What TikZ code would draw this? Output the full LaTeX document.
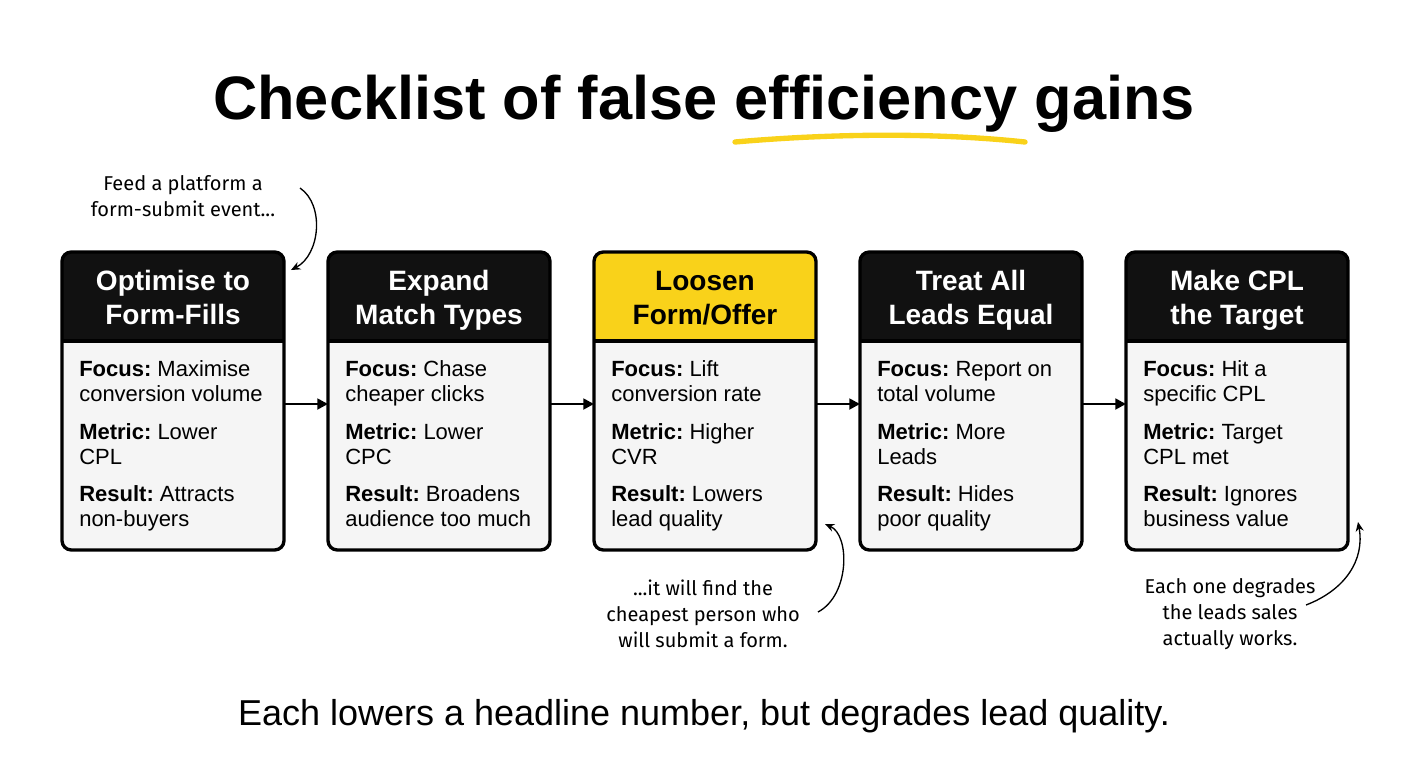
\documentclass[tikz,border=0pt]{standalone}
\usepackage{fontspec}
\setmainfont{Liberation Sans}
\newfontfamily\handfont{Fira Sans}
\usetikzlibrary{arrows.meta}
\definecolor{hdr}{HTML}{111111}
\definecolor{yel}{HTML}{F9D21A}
\definecolor{bodyg}{HTML}{F5F5F5}
\begin{document}
\begin{tikzpicture}[x=0.75pt,y=-0.75pt,
  body/.style={anchor=base west,font=\fontsize{16.5}{18}\selectfont,inner sep=0pt},
  htxt/.style={anchor=base,font=\fontsize{21}{25}\selectfont\bfseries,inner sep=0pt},
  note/.style={align=center,font=\handfont\fontsize{15}{19.5}\selectfont,inner sep=0pt},
  arr/.style={-{Triangle[length=8pt,width=8pt]},line width=2pt},
  carr/.style={-{Stealth[length=7pt,width=6pt]},line width=1pt}]
\useasboundingbox (0,0) rectangle (1408,768);
\fill[white] (0,0) rectangle (1408,768);
\draw[yel,line width=4pt,line cap=round] (735,142) .. controls (850,132) and (950,134) .. (1025,142);
\node[font=\fontsize{46}{50}\selectfont\bfseries] (title) at (704,104) {Checklist of false efficiency gains};
\foreach \i/\ha/\hb/\fa/\fb/\ma/\mb/\ra/\rb/\hc/\tc in {
 1/Optimise to/Form-Fills/Maximise/conversion volume/Lower/CPL/Attracts/non-buyers/hdr/white,
 2/Expand/Match Types/Chase/cheaper clicks/Lower/CPC/Broadens/audience too much/hdr/white,
 3/Loosen/Form\slash Offer/Lift/conversion rate/Higher/CVR/Lowers/lead quality/yel/black,
 4/Treat All/Leads Equal/Report on/total volume/More/Leads/Hides/poor quality/hdr/white,
 5/Make CPL/the Target/Hit a/specific CPL/Target/CPL met/Ignores/business value/hdr/white}{
 \pgfmathsetmacro{\xl}{62+266*(\i-1)}
 \begin{scope}[xshift=\xl*0.75pt]
 \fill[bodyg,rounded corners=7pt] (0,252) rectangle (222,550);
 \fill[\hc,rounded corners=7pt] (0,252) rectangle (222,300);
 \fill[\hc] (0,290) rectangle (222,341);
 \draw[line width=2.5pt] (0,341) -- (222,341);
 \draw[line width=2.5pt,rounded corners=7pt] (0,252) rectangle (222,550);
 \node[htxt,text=\tc] at (111,290) {\ha};
 \node[htxt,text=\tc] at (111,324) {\hb};
 \node[body] at (17,376) {\textbf{Focus:}\ \fa};
 \node[body] at (17,401) {\fb};
 \node[body] at (17,439) {\textbf{Metric:}\ \ma};
 \node[body] at (17,464) {\mb};
 \node[body] at (17,501) {\textbf{Result:}\ \ra};
 \node[body] at (17,526) {\rb};
 \end{scope}
 \coordinate (L\i) at (\xl,404);
 \pgfmathsetmacro{\xr}{\xl+222}
 \coordinate (R\i) at (\xr,404);
}
\draw[arr] (R1) -- (L2);
\draw[arr] (R2) -- (L3);
\draw[arr] (R3) -- (L4);
\draw[arr] (R4) -- (L5);
\node[note] (n1) at (183,196) {Feed a platform a\\form-submit event...};
\node[note] (n2) at (703,614) {...it will find the\\cheapest person who\\will submit a form.};
\node[note] (n3) at (1230,614) {Each one degrades\\the leads sales\\actually works.};
\coordinate (a1) at (291,270);
\coordinate (a2) at (825,524);
\coordinate (a3) at (1358,522);
\draw[carr] (300,188) .. controls (325,205) and (320,255) .. (a1);
\draw[carr] (818,612) .. controls (850,595) and (850,535) .. (a2);
\draw[carr] (1306,605) .. controls (1345,590) and (1365,560) .. (a3);
\node[font=\fontsize{27}{30}\selectfont] (foot) at (704,716) {Each lowers a headline number, but degrades lead quality.};
\end{tikzpicture}
\end{document}
